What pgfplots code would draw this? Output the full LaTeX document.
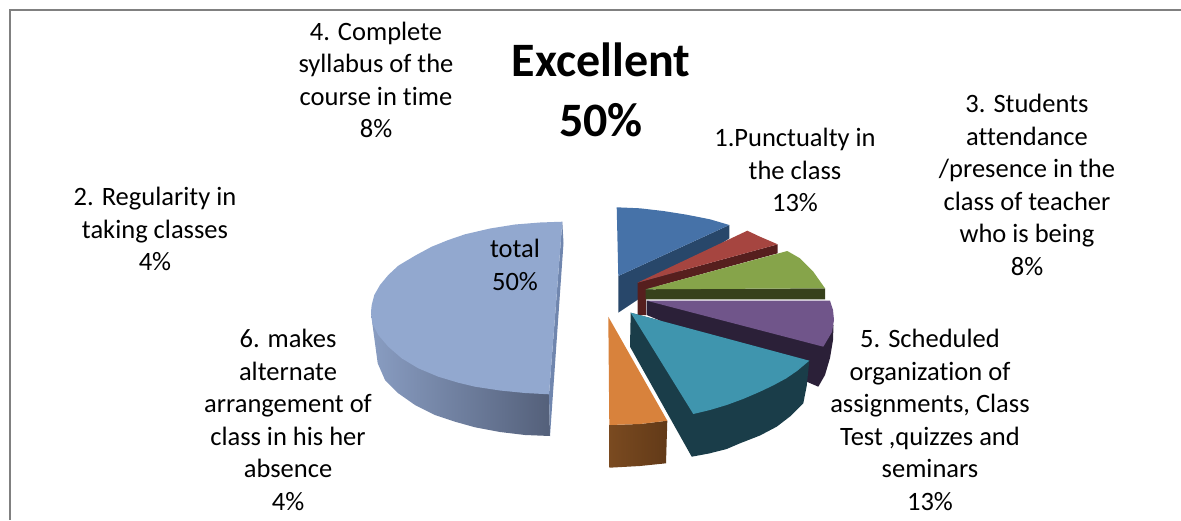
\documentclass[border=0pt]{standalone}
\usepackage{pgfplots}
\pgfplotsset{compat=1.18}
\usepackage{fontspec}
\setmainfont[Ligatures={NoCommon}]{Carlito}
\definecolor{bigtop}{RGB}{146,168,207}
\definecolor{bigcut}{RGB}{112,134,174}
\definecolor{bigl}{RGB}{137,157,194}
\definecolor{bigr}{RGB}{84,96,122}
\definecolor{bluetop}{RGB}{70,114,168}
\definecolor{blueside}{RGB}{40,71,106}
\definecolor{redtop}{RGB}{166,69,64}
\definecolor{redside}{RGB}{86,31,30}
\definecolor{greentop}{RGB}{134,164,74}
\definecolor{greenside}{RGB}{55,65,28}
\definecolor{purpletop}{RGB}{112,85,138}
\definecolor{purpleside}{RGB}{43,32,56}
\definecolor{tealtop}{RGB}{63,149,174}
\definecolor{tealside}{RGB}{26,61,73}
\definecolor{orangetop}{RGB}{216,130,60}
\definecolor{orangel}{RGB}{122,74,32}
\definecolor{oranger}{RGB}{98,58,24}
\definecolor{framegray}{RGB}{128,128,128}

\begin{document}
\begin{tikzpicture}[x=1pt,y=1pt]
\begin{axis}[
  scale only axis, width=1181pt, height=520pt,
  xmin=0, xmax=1181, ymin=0, ymax=520, y dir=reverse,
  hide axis, clip=false,
]
  \path[use as bounding box] (axis cs:0,0) rectangle (axis cs:1181,520);
  % frame
  \addplot[framegray, line width=2pt] coordinates {(10,520)(10,10)(1181,10)};

  % total (big slice)
  \addplot[draw=none, left color=bigl, right color=bigr] coordinates {
    (371,311)(372.3,323.3)(375,343.3)(377.7,363.3)(385,380)(398.3,393.3)(415,405)(435,415)(455,421.7)
    (475,427.3)(500,432)(525,435)(550,436)(549,394)(475,386)(401.7,358)};
  \addplot[draw=none, fill=bigcut] coordinates {(562.3,221.7)(563.5,243)(550,436)(549,394.3)};
  \addplot[draw=none, fill=bigtop] coordinates {
    (562.3,221.7)(540,222.5)(515,224.5)(490,228.5)(465,234.3)(448.3,240)(431.7,246.7)(415,255.7)
    (398.3,265.7)(388.3,275)(380,285)(374.3,295)(371.7,305)(371,311.7)(372.3,323.3)(378.3,335)(388.3,346.7)
    (401.7,358.3)(418.3,368.3)(438.3,376.7)(458.3,382.7)(475,386.7)(500,390.5)(525,393)(549,394.3)};

  % item 1, blue
  \addplot[draw=none, fill=blueside] coordinates {(618.3,276)(729.3,225)(729.3,238.3)(618.3,312.7)};
  \addplot[draw=none, fill=bluetop] coordinates {
    (618.3,276)(616.7,207.3)(640,208.3)(663.3,211)(686.7,214.7)(710,219.3)(729.3,225)};

  % item 2, red
  \addplot[draw=none, fill=redside] coordinates {(637.5,282.7)(777.7,244.3)(777.7,253.3)(646,289.3)(646,315)(637.5,315)};
  \addplot[draw=none, fill=redtop] coordinates {(637.5,282.7)(747.3,230.7)(760,236.7)(777.7,244.3)};

  % item 3, green
  \addplot[draw=none, fill=greenside] coordinates {(645.7,289.3)(825,288.3)(825,299.3)(645.7,299.3)};
  \addplot[draw=none, fill=greentop] coordinates {(645.7,289.3)(787.3,251)(800,258.3)(813.3,271.7)(825,288.3)};

  % item 4, purple
  \addplot[draw=none, fill=purpleside] coordinates {
    (646.7,300.7)(646.7,315)(806.7,381.7)(818.3,386.7)(825,375)(830,358)(833,340)(833.5,325)};
  \addplot[draw=none, fill=purpletop] coordinates {
    (646.7,300.7)(830,300.7)(833,310)(834,320)(832,332)(823.3,346.7)};

  % item 5, teal
  \addplot[draw=none, fill=tealside] coordinates {
    (630.7,312.7)(630,346.7)(691.7,456.7)(709,453.5)(726.7,449)(740,443.3)(760,435.5)(776.7,426.7)
    (790,416.5)(803.3,403.3)(806.7,386)(809.3,360.7)};
  \addplot[draw=none, fill=tealtop] coordinates {
    (630.7,312.7)(809.3,360.7)(797,371)(786,378.5)(773,385.5)(760,391.7)(743,399)(726.7,405)(710,410)(693.3,414)};

  % item 6, orange
  \addplot[draw=none, left color=orangel, right color=oranger] coordinates {
    (609.3,425)(640,424)(667.3,420.7)(666,463.3)(640,466)(609.3,467.7)};
  \addplot[draw=none, fill=orangetop] coordinates {(608.3,316.7)(667.3,420.7)(640,424)(609.3,425)};

  \tikzset{lab/.style={align=center, anchor=center, inner sep=0pt, font=\fontsize{26.5}{32.6}\selectfont}}
  \node[lab] at (axis cs:376,80) {4. Complete\\syllabus of the\\course in time\\8\%};
  \node[align=center, anchor=center, inner sep=0pt, font=\fontsize{48}{60}\selectfont\bfseries] at (axis cs:601,90) {Excellent\\50\%};
  \node[lab] at (axis cs:795,170) {1.Punctualty in\\the class\\13\%};
  \node[lab] at (axis cs:1027,185) {3. Students\\attendance\\/presence in the\\class of teacher\\who is being\\8\%};
  \node[lab] at (axis cs:155,229) {2. Regularity in\\taking classes\\4\%};
  \node[lab] at (axis cs:515,265) {total\\50\%};
  \node[lab] at (axis cs:288,420) {6. makes\\alternate\\arrangement of\\class in his her\\absence\\4\%};
  \node[lab] at (axis cs:930,420) {5. Scheduled\\organization of\\assignments, Class\\Test ,quizzes and\\seminars\\13\%};
\end{axis}
\end{tikzpicture}
\end{document}
